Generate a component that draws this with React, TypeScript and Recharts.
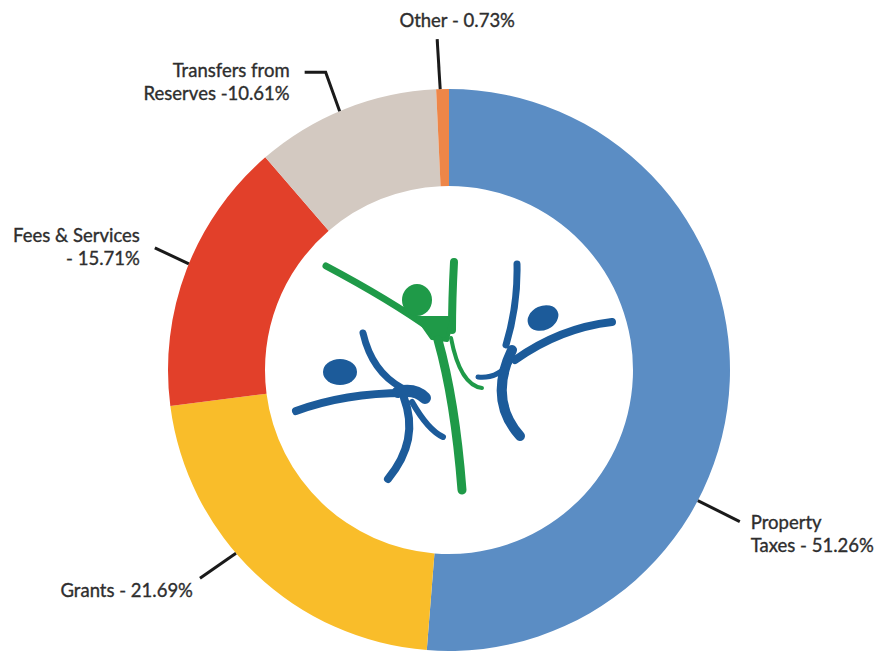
import { Cell, Pie, PieChart } from "recharts";

const categories = ["Property Taxes", "Grants", "Fees & Services", "Transfers from Reserves", "Other"];
const shares = [51.26, 21.69, 15.71, 10.61, 0.73];
const labelLines = [
    ["Property", "Taxes - 51.26%"],
    ["Grants - 21.69%"],
    ["Fees & Services", "- 15.71%"],
    ["Transfers from", "Reserves -10.61%"],
    ["Other - 0.73%"],
];
const colors = ["#5b8dc4", "#f9bd2a", "#e2402a", "#d3c9c1", "#ee8648"];

const data = categories.map((name, i) => ({ name, value: shares[i] }));

// where each leader line touches the ring (degrees, recharts convention) and how it runs out
const labelLayout = [
    { angle: -27.7, path: [[42, 21]], text: [53, 32.5], anchor: "start" },
    { angle: 220.7, path: [[-36, 25]], text: [-43, 37], anchor: "end" },
    { angle: 157.8, path: [[-34, -16]], text: [-49, -17], anchor: "end" },
    { angle: 112.9, path: [[-14, -39], [-35, -39]], text: [-50, -29.5], anchor: "end" },
    { angle: 91.8, path: [[-3, -50]], text: [17, -69], anchor: "middle" },
];

const RAD = Math.PI / 180;

const renderLabel = (props: any) => {
    const { cx, cy, outerRadius, index } = props;
    const lay = labelLayout[index];
    const x0 = cx + outerRadius * Math.cos(lay.angle * RAD);
    const y0 = cy - outerRadius * Math.sin(lay.angle * RAD);
    const pts = [[x0, y0], ...lay.path.map(([dx, dy]) => [x0 + dx, y0 + dy])];
    const lines = labelLines[index];
    const tx = x0 + lay.text[0];
    const ty = y0 + lay.text[1] - ((lines.length - 1) * 23) / 2;
    return (
        <g key={`lbl-${index}`}>
            <polyline
                points={pts.map((p) => p.join(",")).join(" ")}
                fill="none"
                stroke="#1a1a1a"
                strokeWidth={3}
            />
            <text
                x={tx}
                y={ty}
                textAnchor={lay.anchor as any}
                dominantBaseline="central"
                fill="#2e2e2e"
                stroke="#2e2e2e"
                strokeWidth={0.35}
                fontSize={18.5}
                fontFamily="Lato, 'Open Sans', sans-serif"
            >
                {lines.map((l, j) => (
                    <tspan key={j} x={tx} dy={j === 0 ? 0 : 23}>
                        {l}
                    </tspan>
                ))}
            </text>
        </g>
    );
};

const Logo = () => (
    <svg
        width={884}
        height={651}
        style={{ position: "absolute", left: 0, top: 0, pointerEvents: "none" }}
    >
        <g fill="none" strokeLinecap="round" strokeLinejoin="round">
            {/* green figure */}
            <g stroke="#1f9a48">
                <path d="M326,266 Q390,300 432,330" strokeWidth={7} />
                <path d="M454,262 Q452,300 452,330" strokeWidth={8} />
                <path d="M418,318 L452,318 L447,340 L432,338 Z" fill="#1f9a48" strokeWidth={4} />
                <path d="M438,340 Q455,400 462,490" strokeWidth={9} />
                <path d="M451,338 Q460,385 482,388" strokeWidth={4} />
            </g>
            <ellipse cx={417} cy={300} rx={15} ry={16} fill="#1f9a48" />
            {/* right blue figure */}
            <g stroke="#1c5b9a">
                <path d="M517,264 Q518,305 506,345" strokeWidth={7} />
                <path d="M612,322 Q560,328 515,360" strokeWidth={8} />
                <path d="M512,350 Q488,400 520,436" strokeWidth={10} />
                <path d="M478,377 Q498,379 510,362" strokeWidth={5} />
            </g>
            <ellipse cx={543} cy={318} rx={16} ry={12} transform="rotate(-25 543 318)" fill="#1c5b9a" />
            {/* left blue figure */}
            <g stroke="#1c5b9a">
                <path d="M363,333 Q372,372 402,388" strokeWidth={7} />
                <path d="M296,411 Q345,393 405,393" strokeWidth={8} />
                <path d="M398,392 Q415,388 425,398" strokeWidth={12} />
                <path d="M404,398 Q420,440 388,479" strokeWidth={8} />
                <path d="M412,402 Q428,430 443,437" strokeWidth={6} />
            </g>
            <ellipse cx={340} cy={372} rx={17} ry={13} fill="#1c5b9a" />
        </g>
    </svg>
);

export default function App() {
    return (
        <div style={{ position: "absolute", left: 0, top: 0, width: 884, height: 651, background: "#fff" }}>
            <PieChart width={884} height={651} margin={{ top: 0, right: 0, bottom: 0, left: 0 }}>
                <Pie
                    data={data}
                    dataKey="value"
                    nameKey="name"
                    cx={449}
                    cy={370}
                    innerRadius={184}
                    outerRadius={281}
                    startAngle={90}
                    endAngle={-270}
                    stroke="none"
                    label={renderLabel}
                    labelLine={false}
                    isAnimationActive={false}
                >
                    {data.map((d, i) => (
                        <Cell key={d.name} fill={colors[i]} />
                    ))}
                </Pie>
            </PieChart>
            <Logo />
        </div>
    );
}
